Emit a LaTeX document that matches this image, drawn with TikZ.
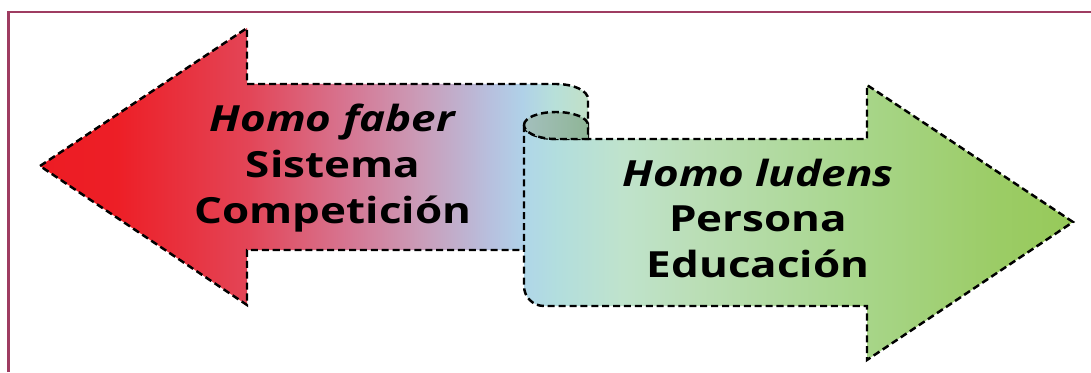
\documentclass[tikz,border=0pt]{standalone}
\usepackage{fontspec}
\setmainfont{Open Sans}[FakeStretch=1.22]
\usetikzlibrary{positioning}

\definecolor{framecol}{RGB}{158,60,97}

% left arrow: red -> lavender -> light blue
\pgfdeclarehorizontalshading{fabershade}{100bp}{
  rgb(0bp)=(0.93,0.11,0.14);
  rgb(25bp)=(0.93,0.11,0.14);
  rgb(32bp)=(0.93,0.12,0.15);
  rgb(44bp)=(0.89,0.27,0.34);
  rgb(53bp)=(0.84,0.46,0.57);
  rgb(60bp)=(0.79,0.62,0.73);
  rgb(66bp)=(0.72,0.75,0.87);
  rgb(69bp)=(0.69,0.82,0.91);
  rgb(72bp)=(0.72,0.88,0.85);
  rgb(75bp)=(0.76,0.88,0.78);
  rgb(100bp)=(0.76,0.88,0.78)}

% right arrow: light blue -> green
\pgfdeclarehorizontalshading{ludensshade}{100bp}{
  rgb(0bp)=(0.69,0.84,0.91);
  rgb(25bp)=(0.69,0.84,0.91);
  rgb(28bp)=(0.70,0.87,0.87);
  rgb(34bp)=(0.75,0.89,0.80);
  rgb(41bp)=(0.73,0.87,0.71);
  rgb(55bp)=(0.66,0.84,0.55);
  rgb(68bp)=(0.61,0.80,0.40);
  rgb(75bp)=(0.59,0.79,0.35);
  rgb(100bp)=(0.59,0.79,0.35)}

\begin{document}
\begin{tikzpicture}[x=0.02cm, y=0.02cm,
    outline/.style={draw=black, line width=1.4pt, dash pattern=on 4pt off 2.2pt, line join=miter},
    lbl/.style={font=\bfseries\fontsize{20.5}{25}\selectfont, inner sep=0pt, anchor=base}]

    \useasboundingbox (0,0) rectangle (1091,372);

    % frame
    \draw[framecol, line width=1.4pt] (8.7,0) -- (8.7,360) -- (1091,360);

    % left arrow
    \shadedraw[shading=fabershade, outline]
        (40,206) -- (247,344) -- (247,288) -- (556,288)
        arc[start angle=90, end angle=0, x radius=32, y radius=15]
        -- (588,122) -- (247,122) -- (247,67) -- cycle;

    % right arrow
    \shadedraw[shading=ludensshade, outline]
        (524,247) -- (524,86) arc[start angle=180, end angle=270, radius=20]
        -- (867,66) -- (867,12) -- (1073,150) -- (867,287) -- (867,233)
        -- (556,233) arc[start angle=270, end angle=180, x radius=32, y radius=14]
        -- cycle;

    % curl of the scroll
    \shadedraw[left color={rgb,1:red,0.64;green,0.75;blue,0.74},
               right color={rgb,1:red,0.56;green,0.71;blue,0.59}, outline]
        (524,247) arc[start angle=180, end angle=0, x radius=32, y radius=13]
        -- (588,233) -- (556,233)
        arc[start angle=270, end angle=180, x radius=32, y radius=14] -- cycle;

    % texts
    \node[lbl] (faber) at (333,240) {\textit{Homo faber}};
    \node[lbl] (sistema) at (333,194) {Sistema};
    \node[lbl] (competicion) at (333,149) {Competición};

    \node[lbl] (ludens) at (758,185) {\textit{Homo ludens}};
    \node[lbl] (persona) at (758,140) {Persona};
    \node[lbl] (educacion) at (758,95) {Educación};

\end{tikzpicture}
\end{document}
